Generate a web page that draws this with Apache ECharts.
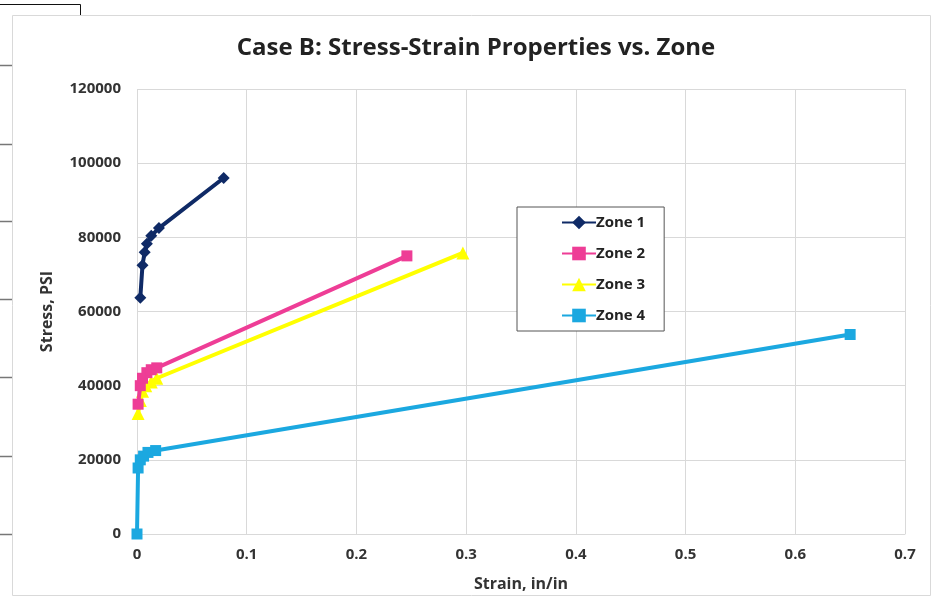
<!DOCTYPE html>
<html>
<head>
<meta charset="utf-8">
<title>Case B: Stress-Strain Properties vs. Zone</title>
<script src="https://cdn.jsdelivr.net/npm/echarts@6/dist/echarts.min.js"></script>
<style>
  html, body { margin: 0; padding: 0; background: #fff; }
  #chart { width: 936px; height: 597px; }
</style>
</head>
<body>
<div id="chart"></div>
<script>
// strain (in/in), stress (psi)
var zone1Strain = [0.003, 0.005, 0.007, 0.009, 0.013, 0.020, 0.079];
var zone1Stress = [63700, 72500, 76000, 78300, 80400, 82500, 96000];

var zone2Strain = [0.001, 0.003, 0.005, 0.009, 0.013, 0.018, 0.246];
var zone2Stress = [35000, 40000, 42000, 43500, 44300, 44800, 75000];

var zone3Strain = [0.001, 0.003, 0.005, 0.008, 0.013, 0.018, 0.297];
var zone3Stress = [32500, 36000, 38500, 40000, 41000, 42000, 75800];

var zone4Strain = [0.000, 0.001, 0.003, 0.006, 0.010, 0.017, 0.650];
var zone4Stress = [0, 17800, 20000, 21000, 22000, 22500, 53800];

var zoneNames = ['Zone 1', 'Zone 2', 'Zone 3', 'Zone 4'];
var zoneColors = ['#0f2a66', '#ee3d96', '#ffff00', '#1ba8e0'];
var zoneSymbols = ['diamond', 'rect', 'triangle', 'rect'];
var zoneSymbolSizes = [12, 11, 13, 11];

function pairs(xs, ys) {
    var out = [];
    for (var i = 0; i < xs.length; i++) {
        out.push([xs[i], ys[i]]);
    }
    return out;
}

var zoneData = [
    pairs(zone1Strain, zone1Stress),
    pairs(zone2Strain, zone2Stress),
    pairs(zone3Strain, zone3Stress),
    pairs(zone4Strain, zone4Stress)
];

var labelFont = {
    color: '#333',
    fontFamily: 'Open Sans',
    fontWeight: 'bold',
    fontSize: 15
};
var nameFont = {
    color: '#333',
    fontFamily: 'Open Sans',
    fontWeight: 'bold',
    fontSize: 16
};

// spreadsheet row lines peeking out left of the chart
var rowLines = [65, 144, 221, 299, 377, 456, 534];
var graphics = [
    {
        type: 'polyline',
        shape: { points: [[0, 4.5], [80.5, 4.5], [80.5, 15]] },
        style: { stroke: '#111', lineWidth: 1, fill: null }
    },
    {
        type: 'rect',
        shape: { x: 12.5, y: 15.5, width: 918, height: 580 },
        style: { stroke: '#d9d9d9', lineWidth: 1, fill: null }
    }
];
rowLines.forEach(function (y) {
    graphics.push({
        type: 'line',
        shape: { x1: 0, y1: y + 0.5, x2: 12, y2: y + 0.5 },
        style: { stroke: '#777', lineWidth: 1.5 }
    });
});

var chart = echarts.init(document.getElementById('chart'));
var option = {
    animation: false,
    backgroundColor: '#fff',
    title: {
        text: 'Case B: Stress-Strain Properties vs. Zone',
        left: 471,
        top: 31,
        textAlign: 'center',
        textStyle: {
            fontFamily: 'Open Sans',
            fontWeight: 'bold',
            fontSize: 24,
            color: '#222'
        }
    },
    graphic: graphics,
    legend: {
        orient: 'vertical',
        left: 517,
        top: 207,
        width: 146,
        padding: [8, 19, 8, 44],
        itemGap: 16,
        itemWidth: 34,
        itemHeight: 17,
        borderColor: '#555',
        borderWidth: 1,
        backgroundColor: '#fff',
        data: zoneNames,
        textStyle: {
            fontFamily: 'Open Sans',
            fontWeight: 'bold',
            fontSize: 15,
            color: '#222',
            padding: [0, 0, 0, -5]
        }
    },
    grid: {
        left: 137,
        top: 89,
        width: 768,
        height: 446,
        containLabel: false
    },
    xAxis: {
        type: 'value',
        min: 0,
        max: 0.7,
        interval: 0.1,
        name: 'Strain, in/in',
        nameLocation: 'middle',
        nameGap: 42,
        nameTextStyle: nameFont,
        axisLine: { show: true, lineStyle: { color: '#d9d9d9' } },
        axisTick: { show: false },
        splitLine: { show: true, lineStyle: { color: '#d9d9d9' } },
        axisLabel: Object.assign({ margin: 13 }, labelFont)
    },
    yAxis: {
        type: 'value',
        min: 0,
        max: 120000,
        interval: 20000,
        name: 'Stress, PSI',
        nameLocation: 'middle',
        nameGap: 82,
        nameTextStyle: nameFont,
        axisLine: { show: false },
        axisTick: { show: false },
        splitLine: { show: true, lineStyle: { color: '#d9d9d9' } },
        axisLabel: Object.assign({
            margin: 16,
            formatter: function (v) { return String(v); }
        }, labelFont)
    },
    series: zoneNames.map(function (name, i) {
        return {
            name: name,
            type: 'line',
            data: zoneData[i],
            symbol: zoneSymbols[i],
            symbolSize: zoneSymbolSizes[i],
            showAllSymbol: true,
            color: zoneColors[i],
            lineStyle: { width: 4, color: zoneColors[i] },
            itemStyle: { color: zoneColors[i] },
            z: 10 - i
        };
    })
};

chart.setOption(option);
</script>
</body>
</html>
